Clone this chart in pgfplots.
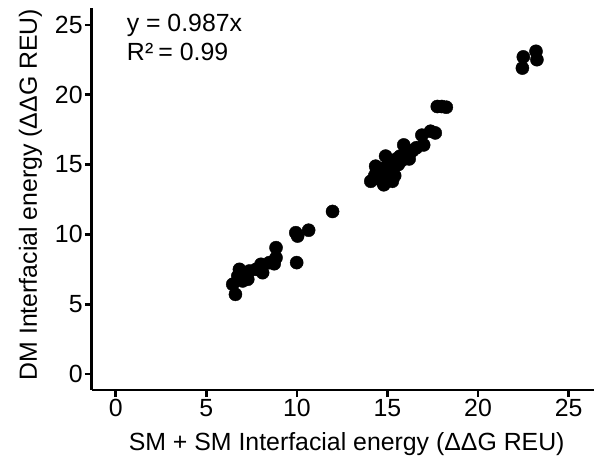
\documentclass[border=0pt]{standalone}
\usepackage{fontspec}
\setmainfont{Liberation Sans}
\usepackage{pgfplots}
\pgfplotsset{compat=1.18}
\begin{document}
\begin{tikzpicture}
\begin{axis}[
  scale only axis, width=503bp, height=383bp,
  xmin=-1.32, xmax=26.38, ymin=-1.14, ymax=26.2,
  axis x line=bottom, axis y line=left,
  axis line style={line width=2.8bp, -},
  xtick={0,5,...,25}, ytick={0,5,...,25},
  tick align=outside, major tick length=7bp,
  tick style={line width=2.5bp, black},
  font=\fontsize{25}{29}\selectfont,
  /pgf/number format/assume math mode=true,
  xticklabel style={inner sep=2bp},
  yticklabel style={inner sep=2bp},
  xlabel={SM + SM Interfacial energy (ΔΔG REU)},
  ylabel={DM Interfacial energy (ΔΔG REU)},
  xlabel style={at={([xshift=4bp,yshift=-61bp]axis description cs:0.5,0)}, anchor=base},
  ylabel style={at={([xshift=-55bp,yshift=4.5bp]axis description cs:0,0.5)}, anchor=base},
  clip=false,
]
\addplot[only marks, mark=*, mark size=6.6, black] table {
x y
6.61 5.71
6.46 6.43
6.83 7.50
7.01 6.67
6.74 7.02
7.38 7.38
7.29 6.79
7.75 7.50
8.02 7.86
8.11 7.26
8.48 7.98
8.75 7.90
8.85 8.33
8.85 9.05
9.94 10.12
10.04 9.88
10.65 10.30
9.99 7.98
11.97 11.64
14.08 13.80
14.30 14.20
14.35 14.88
14.40 14.60
14.50 14.50
14.50 14.00
14.60 14.10
14.70 13.80
14.70 14.70
14.80 13.55
14.90 15.60
14.90 14.30
15.00 13.90
15.00 14.50
15.00 14.90
15.10 15.30
15.10 14.20
15.20 14.60
15.20 15.00
15.27 13.80
15.30 15.10
15.40 14.20
15.50 15.40
15.60 15.00
15.70 15.60
15.80 15.30
15.90 16.40
16.00 15.80
16.20 15.40
16.40 16.00
16.60 16.20
17.00 16.40
16.90 17.10
17.38 17.38
17.64 17.26
17.75 19.15
18.00 19.15
18.25 19.10
22.50 22.70
22.45 21.90
23.20 23.10
23.25 22.50
};
\node[anchor=base west, inner sep=0pt] at (axis cs:0.6,24.5) {y = 0.987x};
\node[anchor=base west, inner sep=0pt] at (axis cs:0.6,22.45) {R\kern0.5pt²\kern-2pt\ = 0.99};
\end{axis}
\path (current axis.south west) ++(-92bp,-72bp) rectangle ++(595bp,463bp);
\end{tikzpicture}
\end{document}
